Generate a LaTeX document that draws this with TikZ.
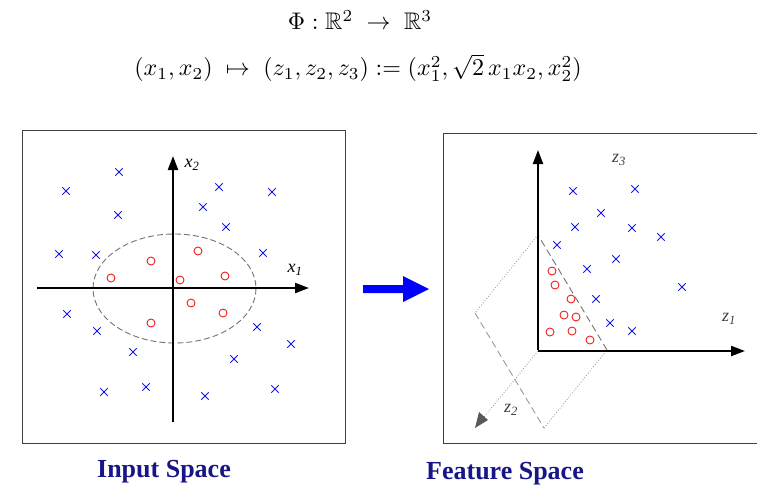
\documentclass[tikz,border=0pt]{standalone}
\usepackage{amssymb}
\usepackage{graphicx}
\usepackage{fontspec}
\setmainfont{Liberation Serif}
\usetikzlibrary{arrows.meta,shapes.misc}
\definecolor{navy}{RGB}{22,22,135}
\definecolor{xblue}{RGB}{20,20,235}
\definecolor{ored}{RGB}{240,30,30}
\tikzset{
  frame/.style={draw=black!75,line width=1pt},
  axis/.style={line width=2.2pt,-{Triangle[length=14pt,width=10pt]}},
  xmark/.style={cross out,draw=xblue,line width=0.9pt,minimum size=6.5pt,inner sep=0pt},
  omark/.style={circle,draw=ored,line width=0.9pt,minimum size=8pt,inner sep=0pt},
  axlabel/.style={font=\fontsize{18}{18}\selectfont\itshape},
  caption/.style={font=\fontsize{26}{26}\selectfont\bfseries,text=navy},
  plane/.style={draw=black!45,line width=0.8pt,dotted},
  planedash/.style={draw=black!55,line width=0.9pt,dash pattern=on 7pt off 4pt},
}
\begin{document}
\begin{tikzpicture}[x=1pt,y=-1pt]
\useasboundingbox (0,0) rectangle (757,490);
% equations
\node (eq1) at (360,20) {\scalebox{2.4}{$\Phi:\mathbb{R}^2\;\to\;\mathbb{R}^3$}};
\node (eq2) at (358,68) {\scalebox{2.4}{$(x_1,x_2)\;\mapsto\;(z_1,z_2,z_3):=(x_1^2,\sqrt{2}\,x_1x_2,x_2^2)$}};
% left panel
\draw[frame] (22,130) rectangle (345,443);
\draw[black!55,line width=0.9pt,dash pattern=on 6pt off 3pt] (174.5,288.5) ellipse [x radius=81.5,y radius=54.5];
\coordinate (lxs) at (37,288);
\coordinate (lxe) at (309,288);
\coordinate (lys) at (173,422);
\coordinate (lye) at (173,156);
\draw[axis] (lxs) -- (lxe);
\draw[axis] (lys) -- (lye);
\node[axlabel] (x1) at (295,270) {x\textsubscript{\itshape 1}};
\node[axlabel] (x2) at (192,165) {x\textsubscript{\itshape 2}};
\foreach \p [count=\i] in {(66,191),(119,172),(118,215),(59,254),(96,255),(219,187),(272,192),(203,207),(226,227),(263,253),(67,314),(97,331),(257,327),(291,344),(133,352),(234,359),(104,392),(146,387),(205,396),(275,389)}
  \node[xmark] (lx\i) at \p {};
\foreach \p [count=\i] in {(111,278),(151,261),(198,251),(180,280),(225,276),(191,303),(223,313),(151,323)}
  \node[omark] (lo\i) at \p {};
% arrow
\fill[blue] (363,285) -- (403,285) -- (403,276) -- (429,289) -- (403,302) -- (403,293) -- (363,293) -- cycle;
% right panel
\draw[frame] (770,133) -- (443,133) -- (443,443) -- (770,443);
\coordinate (o) at (538,351);
\coordinate (pa) at (538,235);
\coordinate (pb) at (475,313);
\coordinate (pc) at (544,428);
\coordinate (pd) at (607,350);
\coordinate (z2e) at (475,428);
\draw[plane] (pa) -- (pb);
\draw[plane] (pc) -- (pd);
\draw[planedash,draw=black!40] (pb) -- (pc);
\draw[planedash] (pd) -- (pa);
\draw[black!45,line width=0.8pt,dotted] (o) -- (z2e);
\fill[black!65] (z2e) -- ++(4,-16) -- ++(9,8) -- cycle;
\draw[axis] (o) -- (745,351);
\draw[axis] ([yshift=1.1pt]o) -- (538,150);
\node[axlabel,text=black!75] (z3) at (619,160) {z\textsubscript{\itshape 3}};
\node[axlabel,text=black!75] (z1) at (729,319) {z\textsubscript{\itshape 1}};
\node[axlabel,text=black!75] (z2) at (511,410) {z\textsubscript{\itshape 2}};
\foreach \p [count=\i] in {(573,191),(635,189),(601,213),(575,227),(632,228),(661,237),(557,245),(616,259),(587,269),(682,287),(596,299),(610,323),(632,331)}
  \node[xmark] (rx\i) at \p {};
\foreach \p [count=\i] in {(552,271),(555,285),(571,299),(564,315),(576,317),(550,332),(572,331),(590,340)}
  \node[omark] (ro\i) at \p {};
% captions
\node[caption] (cap1) at (164,472) {Input Space};
\node[caption] (cap2) at (505,474) {Feature Space};
\end{tikzpicture}
\end{document}
